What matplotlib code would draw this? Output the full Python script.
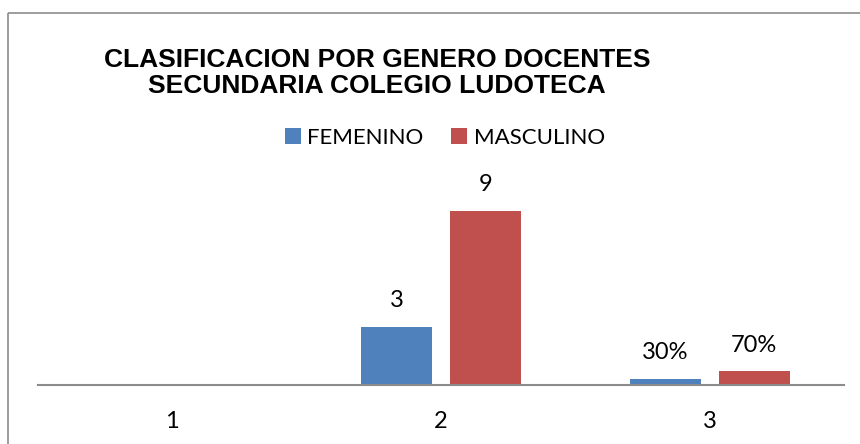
import matplotlib.pyplot as plt
from matplotlib.patches import Rectangle
import numpy as np

categories = ['1', '2', '3']
femenino = [0, 3, 0.3]
masculino = [0, 9, 0.7]
fem_labels = ['', '3', '30%']
mas_labels = ['', '9', '70%']

BLUE = '#4F81BD'
RED = '#C0504D'
W, H = 860, 444

fig = plt.figure(figsize=(W / 100, H / 100), dpi=100)

# outer chart border (only top/left visible in the crop)
fig.patches.append(Rectangle((8 / W, 1 - 13 / H), 1.0, -1.0, transform=fig.transFigure,
                             fill=False, edgecolor='#8c8c8c', linewidth=1.2))

# plot area
ax_left, ax_right, ax_base, ax_top = 38, 844, 385, 60
ax = fig.add_axes([ax_left / W, (H - ax_base) / H, (ax_right - ax_left) / W, (ax_base - ax_top) / H])
ax.set_xlim(0.5, 3.5)
ax.set_ylim(0, (ax_base - ax_top) / 19.33)

x = np.arange(1, len(categories) + 1)
bw = 0.264
gap = 0.067
b1 = ax.bar(x - (bw + gap) / 2, femenino, bw, color=BLUE, label='FEMENINO')
b2 = ax.bar(x + (bw + gap) / 2, masculino, bw, color=RED, label='MASCULINO')

lab_font = dict(family=['Lato', 'DejaVu Sans'], fontsize=17)
for bars, labels in ((b1, fem_labels), (b2, mas_labels)):
    for rect, lab in zip(bars, labels):
        if lab:
            ax.annotate(lab, xy=(rect.get_x() + rect.get_width() / 2, rect.get_height()),
                        xytext=(0, 19), textcoords='offset points',
                        ha='center', va='center', **lab_font)

for s in ['left', 'right', 'top']:
    ax.spines[s].set_visible(False)
ax.spines['bottom'].set_color('#8c8c8c')
ax.spines['bottom'].set_linewidth(1.5)
ax.set_yticks([])
ax.set_xticks(x)
ax.set_xticklabels(categories, **lab_font)
ax.tick_params(axis='x', length=0, pad=19)

fig.text(377 / W, 1 - 73 / H, 'CLASIFICACION POR GENERO DOCENTES\nSECUNDARIA COLEGIO LUDOTECA',
         ha='center', va='center', family='Liberation Sans', fontweight='bold',
         fontsize=19, linespacing=1.13)

fig.legend(handles=[b1, b2], loc='center', bbox_to_anchor=(445 / W, 1 - 138 / H),
           ncol=2, frameon=False, handlelength=0.7, handleheight=0.7,
           handletextpad=0.3, columnspacing=1.25,
           prop=dict(family='Lato', size=16))

fig.savefig('out.png', dpi=100)
